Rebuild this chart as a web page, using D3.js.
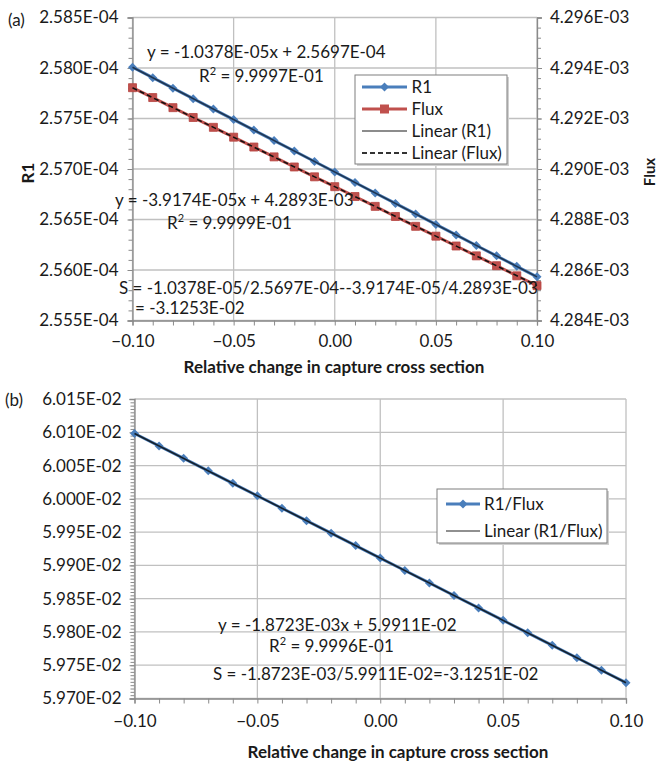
<!DOCTYPE html>
<html><head><meta charset="utf-8">
<script src="https://cdn.jsdelivr.net/npm/d3@7/dist/d3.min.js"></script>
<style>
body{margin:0;background:#fff;}
svg{display:block;}
text{font-family:Lato,"Open Sans",sans-serif;fill:#1a1a1a;}
</style></head>
<body>
<svg id="c" width="657" height="765"></svg>
<script>
// ---------- data ----------
const xValues = [-0.10,-0.09,-0.08,-0.07,-0.06,-0.05,-0.04,-0.03,-0.02,-0.01,0.00,0.01,0.02,0.03,0.04,0.05,0.06,0.07,0.08,0.09,0.10];
const r1Values = [2.58008e-4,2.57904e-4,2.57800e-4,2.57696e-4,2.57593e-4,2.57489e-4,2.57385e-4,2.57281e-4,2.57178e-4,2.57074e-4,2.56970e-4,2.56866e-4,2.56762e-4,2.56659e-4,2.56555e-4,2.56451e-4,2.56347e-4,2.56243e-4,2.56140e-4,2.56036e-4,2.55932e-4];
const fluxValues = [4.29322e-3,4.29283e-3,4.29243e-3,4.29204e-3,4.29165e-3,4.29126e-3,4.29087e-3,4.29048e-3,4.29008e-3,4.28969e-3,4.28930e-3,4.28891e-3,4.28852e-3,4.28812e-3,4.28773e-3,4.28734e-3,4.28695e-3,4.28656e-3,4.28617e-3,4.28577e-3,4.28538e-3];
const ratioValues = [6.00982e-2,6.00795e-2,6.00608e-2,6.00421e-2,6.00233e-2,6.00046e-2,5.99859e-2,5.99672e-2,5.99484e-2,5.99297e-2,5.99110e-2,5.98923e-2,5.98736e-2,5.98548e-2,5.98361e-2,5.98174e-2,5.97987e-2,5.97799e-2,5.97612e-2,5.97425e-2,5.97238e-2];
const r1Trend = [-1.0378e-05, 2.5697e-04];      // slope, intercept
const fluxTrend = [-3.9174e-05, 4.2893e-03];
const ratioTrend = [-1.8723e-03, 5.9911e-02];
const xTicks = [-0.10,-0.05,0.00,0.05,0.10];
const r1Ticks = [2.555e-4,2.560e-4,2.565e-4,2.570e-4,2.575e-4,2.580e-4,2.585e-4];
const fluxTicks = [4.284e-3,4.286e-3,4.288e-3,4.290e-3,4.292e-3,4.294e-3,4.296e-3];
const ratioTicks = [5.970e-2,5.975e-2,5.980e-2,5.985e-2,5.990e-2,5.995e-2,6.000e-2,6.005e-2,6.010e-2,6.015e-2];
const legendTop = ["R1","Flux","Linear (R1)","Linear (Flux)"];
const legendBottom = ["R1/Flux","Linear (R1/Flux)"];
const xTitle = "Relative change in capture cross section";

// ---------- helpers ----------
const svg = d3.select("#c");
const FONT = "Lato, 'Open Sans', sans-serif";
const BLUE = "#4a7ebb", RED = "#c0504d", GRID = "#c0c0c0", AXIS = "#8a8a8a";
function sci(v){ let s=v.toExponential(3).toUpperCase(); return s.replace(/E([+-])(\d)$/,"E$10$2"); }
const diamond = r => `M0,${-r}L${r},0L0,${r}L${-r},0Z`;
const square = r => `M${-r},${-r}H${r}V${r}H${-r}Z`;
const FS = 17;

function minorTicks(domain, step){
  const out=[]; const n=Math.round((domain[1]-domain[0])/step);
  for(let i=0;i<=n;i++) out.push(domain[0]+i*step);
  return out;
}
function styleText(sel){ sel.attr("font-size",FS).attr("font-family",FONT).attr("fill","#1a1a1a"); }

function drawPanel(g, x, y, opts){
  const [x0,x1]=x.range(), [yb,yt]=y.range();
  g.append("g").selectAll("line").data(opts.yTicks).join("line")
    .attr("x1",x0).attr("x2",x1).attr("y1",d=>y(d)).attr("y2",d=>y(d))
    .attr("stroke",GRID).attr("stroke-width",1.3);
  g.append("g").selectAll("line").data(xTicks).join("line")
    .attr("x1",d=>x(d)).attr("x2",d=>x(d)).attr("y1",yb).attr("y2",yt)
    .attr("stroke",GRID).attr("stroke-width",1.3);
  const ym = minorTicks(y.domain(), (opts.yTicks[1]-opts.yTicks[0])/opts.yMinor);
  const la = g.append("g").attr("transform",`translate(${x0},0)`)
    .call(d3.axisLeft(y).tickValues(ym).tickSize(4).tickFormat(""));
  la.select(".domain").remove();
  la.selectAll("line").attr("stroke",AXIS);
  const ly = g.append("g").attr("transform",`translate(${x0},0)`)
    .call(d3.axisLeft(y).tickValues(opts.yTicks).tickSize(5).tickPadding(opts.yPad).tickFormat(sci));
  ly.select(".domain").attr("stroke",AXIS).attr("stroke-width",1.3);
  ly.selectAll("line").attr("stroke",AXIS);
  styleText(ly.selectAll("text"));
  const xm = minorTicks([-0.1,0.1],0.01);
  const xa = g.append("g").attr("transform",`translate(0,${yb})`)
    .call(d3.axisBottom(x).tickValues(xm).tickSize(5).tickFormat(""));
  xa.select(".domain").attr("stroke",AXIS).attr("stroke-width",1.3);
  xa.selectAll("line").attr("stroke",AXIS);
  const xl = g.append("g").attr("transform",`translate(0,${yb})`)
    .call(d3.axisBottom(x).tickValues(xTicks).tickSize(0).tickPadding(opts.xPad).tickFormat(d3.format(".2f")));
  xl.select(".domain").remove();
  styleText(xl.selectAll("text"));
}

function eqText(g, x, y, s){
  return g.append("text").attr("x",x).attr("y",y).attr("font-size",FS).text(s);
}
function r2Text(g, x, y, val){
  const t = g.append("text").attr("x",x).attr("y",y).attr("font-size",FS);
  t.append("tspan").text("R");
  t.append("tspan").attr("font-size",11).attr("dy",-7).text("2");
  t.append("tspan").attr("dy",7).text(" = "+val);
  return t;
}

// ================= Panel (a) =================
const xa = d3.scaleLinear([-0.1,0.1],[132.5,537]);
const yL = d3.scaleLinear([2.555e-4,2.585e-4],[320.5,17.5]);
const yR = d3.scaleLinear([4.284e-3,4.296e-3],[320.5,17.5]);
const ga = svg.append("g");
drawPanel(ga, xa, yL, {yTicks:r1Ticks, yMinor:5, yPad:9, xPad:14});
const rm = minorTicks(yR.domain(), 0.0004e-3);
const rma = ga.append("g").attr("transform","translate(537,0)")
  .call(d3.axisRight(yR).tickValues(rm).tickSize(4).tickFormat(""));
rma.select(".domain").remove(); rma.selectAll("line").attr("stroke",AXIS);
const ra = ga.append("g").attr("transform","translate(537,0)")
  .call(d3.axisRight(yR).tickValues(fluxTicks).tickSize(5).tickPadding(8).tickFormat(sci));
ra.select(".domain").attr("stroke",AXIS).attr("stroke-width",1.3);
ra.selectAll("line").attr("stroke",AXIS);
styleText(ra.selectAll("text"));

const idx = d3.range(xValues.length);
ga.append("path").datum(idx).attr("fill","none").attr("stroke",RED).attr("stroke-width",3)
  .attr("d",d3.line().x(i=>xa(xValues[i])).y(i=>yR(fluxValues[i])));
ga.append("g").selectAll("path").data(idx).join("path")
  .attr("transform",i=>`translate(${xa(xValues[i])},${yR(fluxValues[i])})`)
  .attr("d",square(4)).attr("fill",RED).attr("stroke","#b5423f").attr("stroke-width",0.8);
ga.append("line").attr("x1",xa(-0.1)).attr("x2",xa(0.1))
  .attr("y1",yR(fluxTrend[1]+fluxTrend[0]*-0.1)).attr("y2",yR(fluxTrend[1]+fluxTrend[0]*0.1))
  .attr("stroke","#111").attr("stroke-width",1.5).attr("stroke-dasharray","5,3");
ga.append("path").datum(idx).attr("fill","none").attr("stroke",BLUE).attr("stroke-width",3)
  .attr("d",d3.line().x(i=>xa(xValues[i])).y(i=>yL(r1Values[i])));
ga.append("g").selectAll("path").data(idx).join("path")
  .attr("transform",i=>`translate(${xa(xValues[i])},${yL(r1Values[i])})`)
  .attr("d",diamond(4.5)).attr("fill",BLUE);
ga.append("line").attr("x1",xa(-0.1)).attr("x2",xa(0.1))
  .attr("y1",yL(r1Trend[1]+r1Trend[0]*-0.1)).attr("y2",yL(r1Trend[1]+r1Trend[0]*0.1))
  .attr("stroke","#1f3550").attr("stroke-width",1.5);

// annotations (a)
eqText(ga,147,58,"y = -1.0378E-05x + 2.5697E-04");
r2Text(ga,199,82,"9.9997E-01");
eqText(ga,115,206,"y = -3.9174E-05x + 4.2893E-03");
r2Text(ga,167,229,"9.9999E-01");
eqText(ga,119,294,"S = -1.0378E-05/2.5697E-04--3.9174E-05/4.2893E-03");
eqText(ga,135,314,"= -3.1253E-02");

// legend (a)
const lg = ga.append("g");
lg.append("rect").attr("x",357).attr("y",77).attr("width",152).attr("height",89).attr("fill","#d0d0d0");
lg.append("rect").attr("x",355).attr("y",75).attr("width",152).attr("height",89).attr("fill","#fff").attr("stroke","#7f7f7f").attr("stroke-width",1);
const legY = d3.scalePoint(legendTop,[87,153]);
legendTop.forEach((name,i)=>{
  const yy = legY(name);
  const ln = lg.append("line").attr("x1",362).attr("x2",407).attr("y1",yy).attr("y2",yy);
  if(i===0){ ln.attr("stroke",BLUE).attr("stroke-width",3);
    lg.append("path").attr("transform",`translate(384.5,${yy})`).attr("d",diamond(4.5)).attr("fill",BLUE); }
  else if(i===1){ ln.attr("stroke",RED).attr("stroke-width",3);
    lg.append("path").attr("transform",`translate(384.5,${yy})`).attr("d",square(4.5)).attr("fill",RED); }
  else if(i===2){ ln.attr("stroke","#8c8c8c").attr("stroke-width",2); }
  else { ln.attr("stroke","#333").attr("stroke-width",2).attr("stroke-dasharray","5,3"); }
  lg.append("text").attr("x",411.5).attr("y",yy+6).attr("font-size",FS).text(name);
});

// titles (a)
ga.append("text").attr("x",8).attr("y",26).attr("font-size",FS).text("(a)");
ga.append("text").attr("transform","translate(34,173) rotate(-90)").attr("text-anchor","middle")
  .attr("font-size",17).attr("font-weight","bold").text("R1");
ga.append("text").attr("transform","translate(655,172) rotate(-90)").attr("text-anchor","middle")
  .attr("font-size",15).attr("font-weight","bold").text("Flux");
ga.append("text").attr("x",334).attr("y",373).attr("text-anchor","middle")
  .attr("font-size",17).attr("font-weight","bold").text(xTitle);

// ================= Panel (b) =================
const xb = d3.scaleLinear([-0.1,0.1],[134.5,626]);
const yb = d3.scaleLinear([5.970e-2,6.015e-2],[698.5,399]);
const gb = svg.append("g");
drawPanel(gb, xb, yb, {yTicks:ratioTicks, yMinor:10, yPad:8, xPad:16});
gb.append("path").datum(idx).attr("fill","none").attr("stroke",BLUE).attr("stroke-width",3)
  .attr("d",d3.line().x(i=>xb(xValues[i])).y(i=>yb(ratioValues[i])));
gb.append("g").selectAll("path").data(idx).join("path")
  .attr("transform",i=>`translate(${xb(xValues[i])},${yb(ratioValues[i])})`)
  .attr("d",diamond(4.5)).attr("fill",BLUE);
gb.append("line").attr("x1",xb(-0.1)).attr("x2",xb(0.1))
  .attr("y1",yb(ratioTrend[1]+ratioTrend[0]*-0.1)).attr("y2",yb(ratioTrend[1]+ratioTrend[0]*0.1))
  .attr("stroke","#15202b").attr("stroke-width",1.6);

eqText(gb,218,631,"y = -1.8723E-03x + 5.9911E-02");
r2Text(gb,269,652,"9.9996E-01");
eqText(gb,213,680,"S = -1.8723E-03/5.9911E-02=-3.1251E-02");

const lb = gb.append("g");
lb.append("rect").attr("x",439).attr("y",491).attr("width",170).attr("height",54).attr("fill","#d0d0d0");
lb.append("rect").attr("x",437).attr("y",489).attr("width",170).attr("height",54).attr("fill","#fff").attr("stroke","#7f7f7f");
const legY2 = d3.scalePoint(legendBottom,[504,531]);
legendBottom.forEach((name,i)=>{
  const yy = legY2(name);
  const ln = lb.append("line").attr("x1",446).attr("x2",480).attr("y1",yy).attr("y2",yy);
  if(i===0){ ln.attr("stroke",BLUE).attr("stroke-width",3);
    lb.append("path").attr("transform",`translate(463,${yy})`).attr("d",diamond(4.5)).attr("fill",BLUE); }
  else { ln.attr("stroke","#222").attr("stroke-width",1.2); }
  lb.append("text").attr("x",484).attr("y",yy+6).attr("font-size",FS).text(name);
});

gb.append("text").attr("x",5).attr("y",406).attr("font-size",FS).text("(b)");
gb.append("text").attr("x",398).attr("y",758).attr("text-anchor","middle")
  .attr("font-size",17).attr("font-weight","bold").text(xTitle);
</script>
</body></html>
